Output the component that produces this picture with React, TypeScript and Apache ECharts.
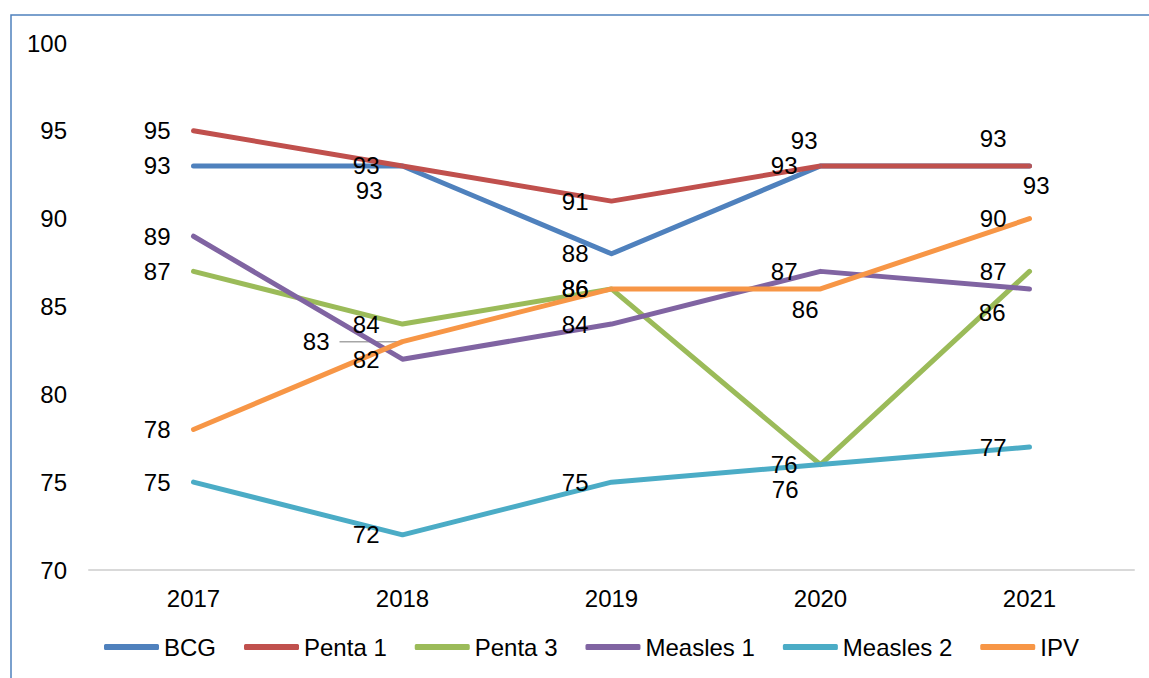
import React, { useEffect, useRef } from "react";
import * as echarts from "echarts";

const categories = ["2017", "2018", "2019", "2020", "2021"];
const bcg = [93, 93, 88, 93, 93];
const penta1 = [95, 93, 91, 93, 93];
const penta3 = [87, 84, 86, 76, 87];
const measles1 = [89, 82, 84, 87, 86];
const measles2 = [75, 72, 75, 76, 77];
const ipv = [78, 83, 86, 86, 90];
const yTicks = [70, 75, 80, 85, 90, 95, 100];

const seriesDefs = [
  { name: "BCG", values: bcg, color: "#4f81bd" },
  { name: "Penta 1", values: penta1, color: "#c0504d" },
  { name: "Penta 3", values: penta3, color: "#9bbb59" },
  { name: "Measles 1", values: measles1, color: "#8064a2" },
  { name: "Measles 2", values: measles2, color: "#4bacc6" },
  { name: "IPV", values: ipv, color: "#f79646" },
];

// label offsets (relative to default "left" placement), keyed by series name and index
const labelOffsets: Record<string, Record<number, [number, number]>> = {
  BCG: { 1: [3, 25], 4: [0, -27] },
  "Penta 1": { 3: [20, -25], 4: [43, 20] },
  "Measles 1": { 4: [-1, 24] },
  "Measles 2": { 3: [1, 25] },
  IPV: { 1: [-50, 0], 3: [21, 21] },
};

const FONT = "Arial, 'Liberation Sans', sans-serif";
const FS = 24;

export default function App() {
  const ref = useRef<HTMLDivElement>(null);
  useEffect(() => {
    if (!ref.current) return;
    const chart = echarts.init(ref.current, undefined, { renderer: "svg" });
    const series = seriesDefs.map((s) => ({
      name: s.name,
      type: "line",
      symbol: "circle",
      symbolSize: 2,
      color: s.color,
      lineStyle: { width: 5, color: s.color, cap: "round", join: "round" },
      itemStyle: { color: s.color },
      emphasis: { disabled: true },
      label: {
        show: true,
        position: "left",
        distance: 22,
        color: "#000",
        fontSize: FS,
        fontFamily: FONT,
      },
      data: s.values.map((v, i) => {
        const off = labelOffsets[s.name] && labelOffsets[s.name][i];
        return off ? { value: v, label: { offset: off } } : v;
      }),
    }));
    const border = {
      type: "rect",
      shape: { x: 11, y: 15, width: 1200, height: 700 },
      style: { fill: "none", stroke: "#4f81bd", lineWidth: 1.5 },
      silent: true,
    };
    chart.setOption({
      animation: false,
      textStyle: { fontFamily: FONT },
      graphic: [border],
      grid: { left: 89, right: 15, top: 43, bottom: 108 },
      legend: {
        left: 99,
        top: 630,
        itemWidth: 55,
        itemHeight: 6,
        itemGap: 28,
        icon: "roundRect",
        textStyle: { fontSize: FS, color: "#000", fontFamily: FONT },
        data: seriesDefs.map((s) => s.name),
      },
      xAxis: {
        type: "category",
        data: categories,
        boundaryGap: true,
        axisLine: { lineStyle: { color: "#d9d9d9", width: 2 } },
        axisTick: { show: false },
        axisLabel: { fontSize: FS, color: "#000", margin: 16, fontFamily: FONT },
      },
      yAxis: {
        type: "value",
        min: yTicks[0],
        max: yTicks[yTicks.length - 1],
        interval: 5,
        splitLine: { show: false },
        axisLine: { show: false },
        axisTick: { show: false },
        axisLabel: { fontSize: FS, color: "#000", margin: 22, fontFamily: FONT },
      },
      series,
    });
    const p = chart.convertToPixel({ xAxisIndex: 0, yAxisIndex: 0 }, [categories[1], ipv[1]]) as number[];
    chart.setOption({
      graphic: [
        border,
        {
          type: "line",
          shape: { x1: p[0] - 63, y1: p[1], x2: p[0], y2: p[1] },
          style: { stroke: "#a6a6a6", lineWidth: 1.5 },
          z: -1,
          silent: true,
        },
      ],
    });
    return () => chart.dispose();
  }, []);
  return (
    <div
      ref={ref}
      style={{ position: "absolute", left: 0, top: 0, width: 1149, height: 678, background: "#fff" }}
    />
  );
}
